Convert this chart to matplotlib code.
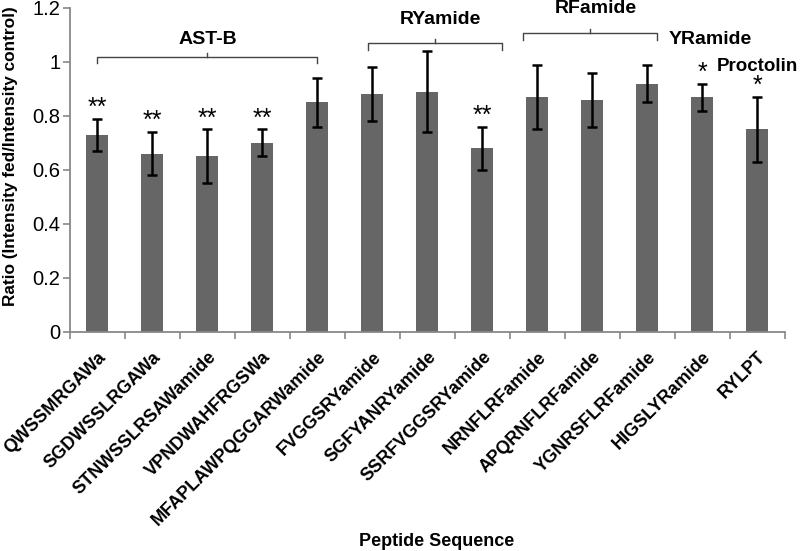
import matplotlib
matplotlib.use("Agg")
import matplotlib.pyplot as plt
import numpy as np

peptides = ["QWSSMRGAWa", "SGDWSSLRGAWa", "STNWSSLRSAWamide", "VPNDWAHFRGSWa",
            "MFAPLAWPQGGARWamide", "FVGGSRYamide", "SGFYANRYamide", "SSRFVGGSRYamide",
            "NRNFLRFamide", "APQRNFLRFamide", "YGNRSFLRFamide", "HIGSLYRamide", "RYLPT"]
ratios = [0.73, 0.66, 0.65, 0.70, 0.85, 0.88, 0.89, 0.68, 0.87, 0.86, 0.92, 0.87, 0.75]
errors = [0.06, 0.08, 0.10, 0.05, 0.09, 0.10, 0.15, 0.08, 0.12, 0.10, 0.07, 0.05, 0.12]
stars = ["**", "**", "**", "**", "", "", "", "**", "", "", "", "*", "*"]

groups = ["AST-B", "RYamide", "RFamide"]

# layout of bracket annotations
bracket_x = [(0.0, 4.0), (4.92, 7.35), (7.74, 10.17)]
bracket_y = [1.02, 1.07, 1.107]
label_pos = [(2.0, 1.089), (6.23, 1.163), (9.07, 1.204)]

plt.rcParams['font.family'] = ['Liberation Sans', 'DejaVu Sans']
fig = plt.figure(figsize=(8, 5.51), dpi=100)
ax = fig.add_axes([0.0875, 0.3975, 0.8935, 0.588])

x = np.arange(len(peptides))
ax.bar(x, ratios, width=0.4, color="#666666", zorder=2)
ax.errorbar(x, ratios, yerr=errors, fmt="none", ecolor="black", elinewidth=1.8,
            capsize=3.5, capthick=1.8, zorder=3)

ax.set_xlim(-0.5, len(peptides) - 0.5)
ax.set_ylim(0, 1.2)
ax.set_yticks(np.arange(0, 1.21, 0.2))
ax.set_yticklabels(["0", "0.2", "0.4", "0.6", "0.8", "1", "1.2"], fontsize=14.5)
ax.set_xticks(x)
ax.set_xticklabels(peptides, rotation=45, ha="right", va="top",
                   rotation_mode="anchor", fontsize=13, fontweight="bold")
ax.set_xticks(np.arange(-0.5, len(peptides), 1), minor=True)
ax.tick_params(axis="x", which="major", length=0, pad=12)
ax.tick_params(axis="x", which="minor", length=5, color="#888888", direction="out",
               width=1.2)
ax.tick_params(axis="y", length=5, color="#888888", direction="out", width=1.2, pad=2)
for s in ["top", "right"]:
    ax.spines[s].set_visible(False)
for s in ["left", "bottom"]:
    ax.spines[s].set_color("#888888")
    ax.spines[s].set_linewidth(1.3)

ax.set_ylabel("Ratio (Intensity fed/Intensity control)", fontsize=12.4, fontweight="bold")
ax.yaxis.set_label_coords(-0.073, 0.543)
fig.text(0.546, 0.0165, "Peptide Sequence", ha="center", va="center", fontsize=13,
         fontweight="bold")

# significance stars
for i, s in enumerate(stars):
    if s:
        ax.text(x[i], ratios[i] + errors[i] + 0.015, s, ha="center", va="baseline",
                fontsize=18)

# group brackets
for name, (xa, xb), by, (lx, ly) in zip(groups, bracket_x, bracket_y, label_pos):
    ax.plot([xa, xa, xb, xb], [by - 0.025, by, by, by - 0.025], color="#444444",
            lw=1.0, clip_on=False)
    xm = (xa + xb) / 2
    ax.plot([xm, xm], [by, by + 0.015], color="#444444", lw=1.0, clip_on=False)
    ax.text(lx, ly, name, ha="center", va="center_baseline", fontsize=14,
            fontweight="bold", clip_on=False)

ax.text(11.15, 1.089, "YRamide", ha="center", va="center_baseline", fontsize=14,
        fontweight="bold", clip_on=False)
ax.text(12.0, 0.99, "Proctolin", ha="center", va="center_baseline", fontsize=13.5,
        fontweight="bold", clip_on=False)

fig.savefig("out.png", dpi=100)
